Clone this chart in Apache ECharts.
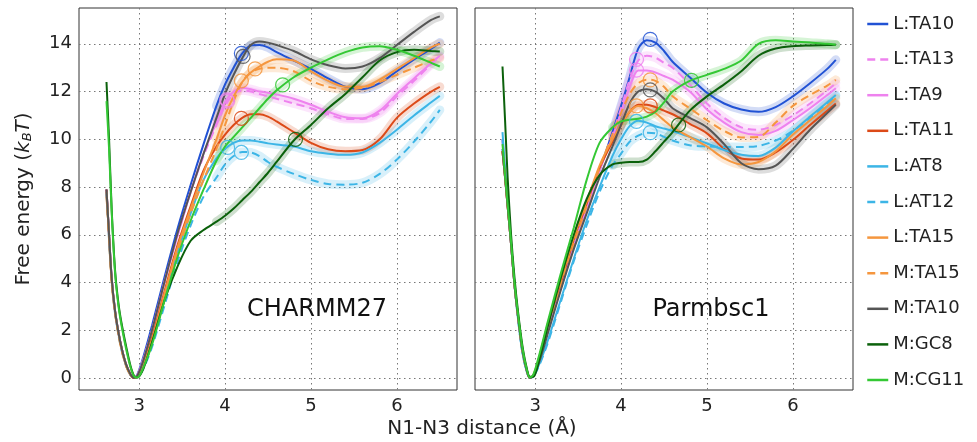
<!DOCTYPE html>
<html>
<head>
<meta charset="utf-8">
<script src="https://cdn.jsdelivr.net/npm/echarts@6/dist/echarts.min.js"></script>
<style>
html,body{margin:0;padding:0;background:#fff;}
#chart{width:977px;height:442px;}
</style>
</head>
<body>
<div id="chart"></div>
<script>
// Shared x grid (N1-N3 distance, Å)
const X = [2.62, 2.65, 2.68, 2.72, 2.76, 2.8, 2.85, 2.9, 2.94, 2.98, 3.05, 3.15, 3.3, 3.45, 3.6, 3.75, 3.9, 4.0, 4.1, 4.2, 4.3, 4.4, 4.5, 4.6, 4.8, 5.0, 5.2, 5.4, 5.6, 5.8, 6.0, 6.2, 6.4, 6.5];

const NAMES = ['L:TA10', 'L:TA13', 'L:TA9', 'L:TA11', 'L:AT8', 'L:AT12', 'L:TA15', 'M:TA15', 'M:TA10', 'M:GC8', 'M:CG11'];
const PANELS = ['CHARMM27', 'Parmbsc1'];
const X_TICKS = [3, 4, 5, 6];
const Y_TICKS = [0, 2, 4, 6, 8, 10, 12, 14];

// CHARMM27 panel
const C_TA10 = [7.9, 6.0, 4.2, 2.8, 1.9, 1.2, 0.55, 0.15, 0.0, 0.15, 0.9, 2.2, 4.3, 6.3, 8.1, 9.8, 11.4, 12.3, 13.0, 13.6, 13.93, 13.95, 13.85, 13.65, 13.3, 12.95, 12.55, 12.2, 12.1, 12.35, 12.85, 13.35, 13.8, 14.05];
const C_TA13 = [7.8, 5.9, 4.1, 2.75, 1.85, 1.15, 0.5, 0.12, 0.0, 0.12, 0.8, 2.0, 4.1, 6.0, 7.8, 9.3, 10.6, 11.4, 11.9, 12.05, 12.0, 11.9, 11.8, 11.7, 11.5, 11.3, 11.05, 10.85, 10.85, 11.1, 11.8, 12.45, 13.15, 13.45];
const C_TA9 = [7.9, 6.0, 4.2, 2.8, 1.9, 1.2, 0.55, 0.15, 0.0, 0.12, 0.8, 2.0, 4.1, 6.0, 7.8, 9.4, 10.7, 11.55, 12.0, 12.15, 12.1, 12.0, 11.95, 11.88, 11.7, 11.45, 11.15, 10.92, 10.88, 11.2, 11.9, 12.55, 13.2, 13.5];
const C_TA11 = [7.9, 6.0, 4.2, 2.8, 1.9, 1.2, 0.55, 0.15, 0.0, 0.08, 0.6, 1.7, 3.7, 5.6, 7.2, 8.7, 9.7, 10.2, 10.6, 10.9, 11.05, 11.05, 10.95, 10.75, 10.3, 9.85, 9.58, 9.5, 9.55, 10.0, 10.9, 11.5, 12.0, 12.2];
const C_AT8 = [7.8, 5.9, 4.1, 2.75, 1.85, 1.15, 0.5, 0.12, 0.0, 0.05, 0.5, 1.5, 3.4, 5.3, 6.9, 8.3, 9.2, 9.6, 9.85, 9.95, 9.95, 9.9, 9.83, 9.78, 9.7, 9.5, 9.4, 9.35, 9.45, 9.85, 10.4, 11.0, 11.55, 11.82];
const C_AT12 = [7.7, 5.8, 4.0, 2.7, 1.8, 1.1, 0.5, 0.12, 0.0, 0.03, 0.4, 1.3, 3.1, 4.9, 6.4, 7.6, 8.4, 8.95, 9.3, 9.47, 9.45, 9.3, 9.05, 8.85, 8.55, 8.3, 8.13, 8.1, 8.18, 8.55, 9.15, 9.9, 10.75, 11.23];
const C_TA15 = [7.8, 5.9, 4.1, 2.75, 1.85, 1.15, 0.5, 0.12, 0.0, 0.08, 0.55, 1.6, 3.6, 5.5, 7.1, 8.6, 10.0, 11.0, 11.8, 12.4, 12.8, 13.05, 13.25, 13.35, 13.3, 12.85, 12.45, 12.2, 12.2, 12.5, 12.95, 13.4, 13.85, 14.0];
const CM_TA15 = [7.6, 5.8, 4.0, 2.7, 1.8, 1.1, 0.5, 0.12, 0.0, 0.06, 0.5, 1.5, 3.4, 5.3, 6.9, 8.3, 9.6, 10.6, 11.6, 12.4, 12.8, 12.95, 13.0, 13.0, 12.85, 12.45, 12.2, 12.1, 12.15, 12.4, 12.7, 13.0, 13.3, 13.4];
const CM_TA10 = [7.9, 6.0, 4.2, 2.8, 1.9, 1.2, 0.55, 0.15, 0.0, 0.1, 0.75, 2.0, 4.1, 6.1, 7.8, 9.4, 10.9, 11.9, 12.7, 13.4, 13.95, 14.1, 14.05, 13.95, 13.7, 13.35, 13.1, 12.97, 13.05, 13.4, 13.95, 14.5, 15.0, 15.15];
const CM_GC8 = [12.4, 10.0, 7.1, 4.5, 3.1, 2.2, 1.3, 0.5, 0.1, 0.02, 0.4, 1.5, 3.3, 4.7, 5.75, 6.2, 6.55, 6.8, 7.1, 7.45, 7.8, 8.2, 8.6, 9.05, 9.95, 10.6, 11.3, 11.9, 12.6, 13.3, 13.65, 13.75, 13.7, 13.68];
const CM_CG11 = [11.6, 9.6, 7.0, 4.4, 3.0, 2.1, 1.2, 0.45, 0.08, 0.02, 0.45, 1.4, 3.3, 5.1, 6.6, 7.9, 9.1, 9.7, 10.1, 10.5, 10.9, 11.3, 11.7, 12.05, 12.6, 13.0, 13.35, 13.65, 13.85, 13.9, 13.75, 13.5, 13.2, 13.05];

// Parmbsc1 panel
const P_TA10 = [9.6, 8.4, 7.2, 5.6, 3.9, 2.6, 1.2, 0.35, 0.0, 0.1, 0.75, 2.0, 3.8, 5.5, 7.1, 8.7, 10.3, 11.4, 12.6, 13.8, 14.15, 14.05, 13.7, 13.25, 12.6, 11.95, 11.5, 11.25, 11.15, 11.35, 11.8, 12.35, 12.95, 13.33];
const P_TA13 = [10.0, 8.6, 7.3, 5.6, 3.9, 2.6, 1.2, 0.35, 0.0, 0.1, 0.75, 2.0, 3.8, 5.5, 7.1, 8.7, 10.2, 11.3, 12.5, 13.3, 13.5, 13.42, 13.2, 13.0, 12.3, 11.5, 10.9, 10.5, 10.4, 10.6, 11.0, 11.5, 12.05, 12.35];
const P_TA9 = [10.0, 8.6, 7.3, 5.6, 3.9, 2.6, 1.2, 0.35, 0.0, 0.1, 0.75, 2.0, 3.8, 5.5, 7.1, 8.7, 10.1, 11.1, 12.2, 12.88, 12.88, 12.8, 12.65, 12.5, 12.0, 11.25, 10.7, 10.3, 10.18, 10.35, 10.8, 11.3, 11.85, 12.14];
const P_TA11 = [9.5, 8.4, 7.2, 5.6, 3.9, 2.6, 1.2, 0.35, 0.0, 0.12, 0.9, 2.3, 4.0, 5.8, 7.3, 8.8, 9.9, 10.6, 11.15, 11.45, 11.45, 11.35, 11.2, 11.05, 10.65, 10.25, 9.6, 9.2, 9.15, 9.45, 9.97, 10.6, 11.2, 11.5];
const P_AT8 = [10.3, 8.8, 7.4, 5.6, 3.9, 2.5, 1.1, 0.3, 0.0, 0.08, 0.6, 1.6, 3.3, 5.0, 6.6, 8.0, 9.3, 10.0, 10.55, 10.78, 10.7, 10.55, 10.45, 10.35, 10.1, 9.83, 9.55, 9.35, 9.3, 9.65, 10.33, 10.95, 11.55, 11.86];
const P_AT12 = [10.0, 8.6, 7.3, 5.6, 3.9, 2.5, 1.1, 0.3, 0.0, 0.06, 0.55, 1.5, 3.2, 4.9, 6.4, 7.8, 8.9, 9.4, 9.9, 10.15, 10.28, 10.25, 10.1, 9.95, 9.75, 9.7, 9.68, 9.68, 9.72, 9.95, 10.35, 10.9, 11.5, 11.8];
const P_TA15 = [9.5, 8.4, 7.2, 5.6, 3.9, 2.6, 1.2, 0.35, 0.0, 0.12, 0.9, 2.3, 4.1, 5.9, 7.4, 8.9, 10.0, 10.6, 11.15, 11.4, 11.3, 11.1, 10.8, 10.5, 10.1, 9.7, 9.2, 8.95, 9.05, 9.5, 10.2, 10.8, 11.4, 11.72];
const PM_TA15 = [9.5, 8.4, 7.2, 5.6, 3.9, 2.6, 1.2, 0.35, 0.0, 0.1, 0.8, 2.1, 3.9, 5.6, 7.2, 8.8, 10.2, 11.1, 11.9, 12.35, 12.5, 12.45, 12.2, 11.8, 11.3, 10.8, 10.35, 10.08, 10.1, 10.7, 11.4, 11.85, 12.25, 12.49];
const PM_TA10 = [9.5, 8.4, 7.2, 5.6, 3.9, 2.6, 1.2, 0.35, 0.0, 0.1, 0.7, 1.9, 3.7, 5.4, 6.9, 8.4, 9.7, 10.6, 11.5, 12.0, 12.1, 12.0, 11.7, 11.3, 10.9, 10.5, 9.8, 9.0, 8.75, 8.9, 9.6, 10.4, 11.1, 11.45];
const PM_GC8 = [13.05, 10.8, 8.4, 6.0, 4.2, 2.8, 1.4, 0.45, 0.05, 0.05, 0.8, 2.2, 4.2, 6.0, 7.5, 8.5, 8.95, 9.02, 9.05, 9.05, 9.15, 9.5, 9.9, 10.3, 11.2, 11.8, 12.3, 12.85, 13.5, 13.8, 13.9, 13.93, 13.95, 13.96];
const PM_CG11 = [9.8, 8.5, 7.3, 5.7, 4.0, 2.7, 1.3, 0.4, 0.02, 0.15, 1.0, 2.4, 4.4, 6.3, 8.3, 9.85, 10.5, 10.75, 10.82, 10.86, 10.95, 11.15, 11.55, 12.0, 12.45, 12.7, 12.95, 13.3, 14.0, 14.15, 14.1, 14.05, 14.0, 13.96];

// Transition-state circles (x, y) per series, same order as NAMES
const C_CIRCLE_X = [4.19, 4.03, 4.02, 4.19, 4.03, 4.19, 4.35, 4.19, 4.21, 4.82, 4.67];
const C_CIRCLE_Y = [13.6, 11.6, 11.65, 10.88, 9.66, 9.45, 12.95, 12.45, 13.47, 10.0, 12.28];
const P_CIRCLE_X = [4.34, 4.18, 4.18, 4.34, 4.18, 4.34, 4.18, 4.34, 4.34, 4.67, 4.82];
const P_CIRCLE_Y = [14.19, 13.35, 12.9, 11.4, 10.75, 10.28, 11.4, 12.49, 12.07, 10.6, 12.47];

const C_SERIES = [C_TA10, C_TA13, C_TA9, C_TA11, C_AT8, C_AT12, C_TA15, CM_TA15, CM_TA10, CM_GC8, CM_CG11];
const P_SERIES = [P_TA10, P_TA13, P_TA9, P_TA11, P_AT8, P_AT12, P_TA15, PM_TA15, PM_TA10, PM_GC8, PM_CG11];

const COLORS = ['#2152d4', '#ee82ee', '#ee82ee', '#dc4a18', '#3cb5e6', '#3cb5e6', '#f5963e', '#f5963e', '#555555', '#0b610b', '#34c834'];
const DASHED = [false, true, false, false, false, true, false, true, false, false, false];

const FONT = 'DejaVu Sans';
const chart = echarts.init(document.getElementById('chart'), null, {renderer: 'canvas'});

const grids = [
  {left: 79, top: 8, width: 378, height: 382},
  {left: 475, top: 8, width: 378, height: 382}
].map(g => Object.assign(g, {show: true, borderColor: '#333', borderWidth: 1, backgroundColor: 'transparent', containLabel: false}));

function xAxis(i) {
  return {
    type: 'value', gridIndex: i, min: 2.3, max: 6.7,
    axisLine: {show: false}, axisTick: {show: false, customValues: X_TICKS},
    axisLabel: {customValues: X_TICKS, fontFamily: FONT, fontSize: 18, color: '#222', margin: 7},
    splitLine: {show: true, lineStyle: {type: [1.5, 3.5], color: '#777', width: 1}}
  };
}
function yAxis(i) {
  const a = {
    type: 'value', gridIndex: i, min: -0.5, max: 15.5,
    axisLine: {show: false}, axisTick: {show: false, customValues: Y_TICKS},
    axisLabel: {show: i === 0, customValues: Y_TICKS, fontFamily: FONT, fontSize: 18, color: '#222', margin: 7},
    splitLine: {show: true, lineStyle: {type: [1.5, 3.5], color: '#777', width: 1}}
  };
  if (i === 0) {
    a.name = 'Free energy ({i|k}{s|B}{i|T})';
    a.nameLocation = 'middle';
    a.nameGap = 45;
    a.nameTextStyle = {
      fontFamily: FONT, fontSize: 20, color: '#222',
      rich: {
        i: {fontFamily: FONT, fontStyle: 'italic', fontSize: 20, color: '#222'},
        s: {fontFamily: FONT, fontStyle: 'italic', fontSize: 13, color: '#222', verticalAlign: 'bottom'}
      }
    };
  }
  return a;
}

const series = [];
[C_SERIES, P_SERIES].forEach((set, p) => {
  // shaded uncertainty bands (drawn behind)
  set.forEach((vals, i) => {
    series.push({
      name: NAMES[i] + ' band ' + p, type: 'line', xAxisIndex: p, yAxisIndex: p,
      data: X.map((x, j) => [x, vals[j]]).filter(d => d[0] >= 3.9),
      symbol: 'none', smooth: 0.3, silent: true, z: 1,
      lineStyle: {width: 9, color: COLORS[i], opacity: 0.2, cap: 'round'}
    });
  });
  set.forEach((vals, i) => {
    series.push({
      name: NAMES[i], type: 'line', xAxisIndex: p, yAxisIndex: p,
      data: X.map((x, j) => [x, vals[j]]),
      symbol: 'none', showSymbol: false, smooth: 0.3, z: 2,
      itemStyle: {color: COLORS[i]},
      lineStyle: {width: 2, color: COLORS[i], type: DASHED[i] ? [8, 5] : 'solid'}
    });
  });
  const cx = p === 0 ? C_CIRCLE_X : P_CIRCLE_X;
  const cy = p === 0 ? C_CIRCLE_Y : P_CIRCLE_Y;
  NAMES.forEach((n, i) => {
    series.push({
      name: n + ' TS ' + p, type: 'scatter', xAxisIndex: p, yAxisIndex: p,
      data: [[cx[i], cy[i]]], symbol: 'circle', symbolSize: 14, silent: true, z: 3,
      itemStyle: {color: 'rgba(0,0,0,0)', borderColor: COLORS[i], borderWidth: 1.2, opacity: 0.85}
    });
  });
});

chart.setOption({
  animation: false,
  backgroundColor: '#fff',
  textStyle: {fontFamily: FONT},
  title: [
    {text: PANELS[0], left: 312, top: 293, textAlign: 'center', textStyle: {fontFamily: FONT, fontSize: 24, fontWeight: 'normal', color: '#111'}},
    {text: PANELS[1], left: 706, top: 293, textAlign: 'center', textStyle: {fontFamily: FONT, fontSize: 24, fontWeight: 'normal', color: '#111'}},
    {text: 'N1-N3 distance (Å)', left: 477, top: 414, textAlign: 'center', textStyle: {fontFamily: FONT, fontSize: 20, fontWeight: 'normal', color: '#222'}}
  ],
  legend: {
    data: NAMES, orient: 'vertical', left: 861, top: 10,
    itemWidth: 21, itemHeight: 14, itemGap: 17.6,
    itemStyle: {opacity: 0},
    lineStyle: {width: 2.5},
    textStyle: {fontFamily: FONT, fontSize: 18, color: '#222'},
    selectedMode: false
  },
  grid: grids,
  xAxis: [xAxis(0), xAxis(1)],
  yAxis: [yAxis(0), yAxis(1)],
  series: series
});
</script>
</body>
</html>
